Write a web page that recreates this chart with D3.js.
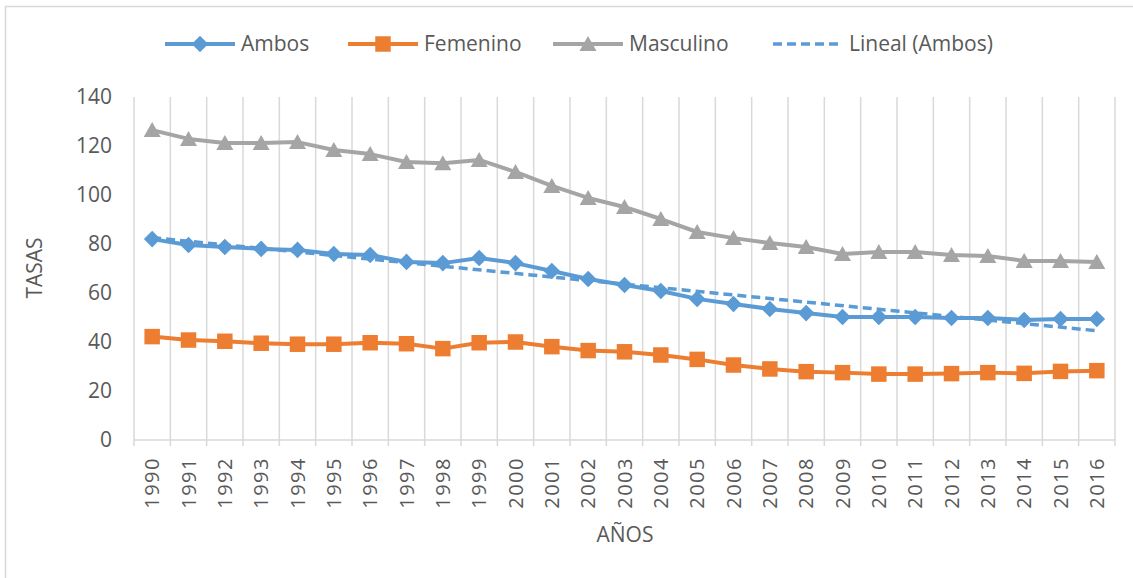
<!DOCTYPE html>
<html>
<head>
<meta charset="utf-8">
<script src="https://cdn.jsdelivr.net/npm/d3@7/dist/d3.min.js"></script>
<style>
  body { margin: 0; background: #fff; }
  svg text { font-family: "Open Sans", sans-serif; fill: #595959; }
</style>
</head>
<body>
<svg id="chart" width="1133" height="578"></svg>
<script>
const years = d3.range(1990, 2017).map(String);
const ambos = [82, 79.6, 78.8, 78, 77.6, 75.9, 75.5, 72.7, 72.2, 74.3, 72.2, 69, 65.7, 63.3,
  60.8, 57.6, 55.5, 53.5, 51.8, 50.2, 50.2, 50.2, 49.8, 49.8, 49, 49.4, 49.4];
const femenino = [42.2, 40.8, 40.3, 39.5, 39.1, 39.1, 39.7, 39.3, 37.3, 39.7, 40, 38.1, 36.5, 36,
  34.7, 32.9, 30.6, 29, 27.9, 27.5, 26.9, 26.9, 27.1, 27.5, 27.2, 28, 28.3];
const masculino = [126.5, 122.9, 121.2, 121.2, 121.6, 118.4, 116.7, 113.5, 113, 114.3, 109.4, 103.7,
  98.8, 95.1, 90.2, 84.9, 82.4, 80.4, 78.8, 75.9, 76.7, 76.7, 75.5, 75.1, 73.1, 73.1, 72.7];
// Lineal (Ambos): trend line ends
const trendYears = ['1990', '2016'];
const trendAmbos = [82.6, 44.6];
const yTicks = [0, 20, 40, 60, 80, 100, 120, 140];

const svg = d3.select('#chart');
const plot = { left: 134, right: 1115, top: 97, bottom: 440 };
const fontSize = '21px';

// frame (only top/left edges are inside the picture)
svg.append('rect').attr('x', 5.5).attr('y', 6.5).attr('width', 1140).attr('height', 600)
  .attr('fill', 'none').attr('stroke', '#d9d9d9').attr('stroke-width', 1.5);

const x = d3.scaleBand().domain(years).range([plot.left, plot.right]).padding(0);
const y = d3.scaleLinear().domain([0, 140]).range([plot.bottom, plot.top]);
const cx = (d) => x(d) + x.bandwidth() / 2;

// vertical gridlines on category boundaries
const bounds = years.map((d) => x(d)).concat([plot.right]);
svg.append('g').selectAll('line').data(bounds).enter().append('line')
  .attr('x1', (d) => d).attr('x2', (d) => d)
  .attr('y1', plot.top).attr('y2', plot.bottom + 6)
  .attr('stroke', '#d9d9d9').attr('stroke-width', 1.5);
svg.append('line').attr('x1', plot.left).attr('x2', plot.right)
  .attr('y1', plot.bottom).attr('y2', plot.bottom)
  .attr('stroke', '#d9d9d9').attr('stroke-width', 1.5);

// y tick labels
svg.append('g').selectAll('text').data(yTicks).enter().append('text')
  .attr('x', 112).attr('y', (d) => y(d)).attr('dy', '0.35em')
  .attr('text-anchor', 'end').style('font-size', fontSize).text((d) => d);

// x tick labels, rotated
svg.append('g').selectAll('text').data(years).enter().append('text')
  .attr('transform', (d) => `translate(${cx(d)},457) rotate(-90)`)
  .attr('text-anchor', 'end').attr('dy', '0.36em')
  .style('font-size', '20px').style('letter-spacing', '1.5px').text((d) => d);

// axis titles
svg.append('text').attr('transform', 'translate(35,268) rotate(-90)')
  .attr('text-anchor', 'middle').attr('dy', '0.35em').style('font-size', fontSize).text('TASAS');
svg.append('text').attr('x', 625).attr('y', 535).attr('text-anchor', 'middle')
  .attr('dy', '0.35em').style('font-size', fontSize).text('AÑOS');

const symDiamond = d3.symbol().type(d3.symbolDiamond2).size(175);
const symSquare = d3.symbol().type(d3.symbolSquare).size(240);
// isosceles triangle, 17 wide x 15 tall, centred on its box
const symTriangle = () => 'M0,-8L8.5,7L-8.5,7Z';

const series = [
  { name: 'Masculino', values: masculino, color: '#a5a5a5', sym: symTriangle },
  { name: 'Femenino', values: femenino, color: '#ed7d31', sym: symSquare },
  { name: 'Ambos', values: ambos, color: '#5b9bd5', sym: symDiamond }
];

const line = d3.line().x((d, i) => cx(years[i])).y((d) => y(d));

series.forEach((s) => {
  svg.append('path').datum(s.values).attr('d', line)
    .attr('fill', 'none').attr('stroke', s.color).attr('stroke-width', 4)
    .attr('stroke-linejoin', 'round');
  svg.append('g').selectAll('path').data(s.values).enter().append('path')
    .attr('d', s.sym)
    .attr('transform', (d, i) => `translate(${cx(years[i])},${y(d)})`)
    .attr('fill', s.color);
});

// trend line
svg.append('path').datum(trendAmbos)
  .attr('d', d3.line().x((d, i) => cx(trendYears[i])).y((d) => y(d)))
  .attr('fill', 'none').attr('stroke', '#5b9bd5').attr('stroke-width', 3.5)
  .attr('stroke-dasharray', '9,5');

// legend
const legendItems = [
  { name: 'Ambos', color: '#5b9bd5', sym: symDiamond, x0: 165 },
  { name: 'Femenino', color: '#ed7d31', sym: symSquare, x0: 348 },
  { name: 'Masculino', color: '#a5a5a5', sym: symTriangle, x0: 553 },
  { name: 'Lineal (Ambos)', color: '#5b9bd5', sym: null, x0: 773 }
];
const ly = 44;
legendItems.forEach((it) => {
  const g = svg.append('g');
  g.append('line').attr('x1', it.x0).attr('x2', it.x0 + 70).attr('y1', ly).attr('y2', ly)
    .attr('stroke', it.color).attr('stroke-width', it.sym ? 4 : 3.5)
    .attr('stroke-dasharray', it.sym ? null : '9,5');
  if (it.sym) {
    g.append('path').attr('d', it.sym).attr('fill', it.color)
      .attr('transform', `translate(${it.x0 + 35},${ly})`);
  }
  g.append('text').attr('x', it.x0 + 76).attr('y', ly).attr('dy', '0.35em')
    .style('font-size', fontSize).text(it.name);
});
</script>
</body>
</html>
